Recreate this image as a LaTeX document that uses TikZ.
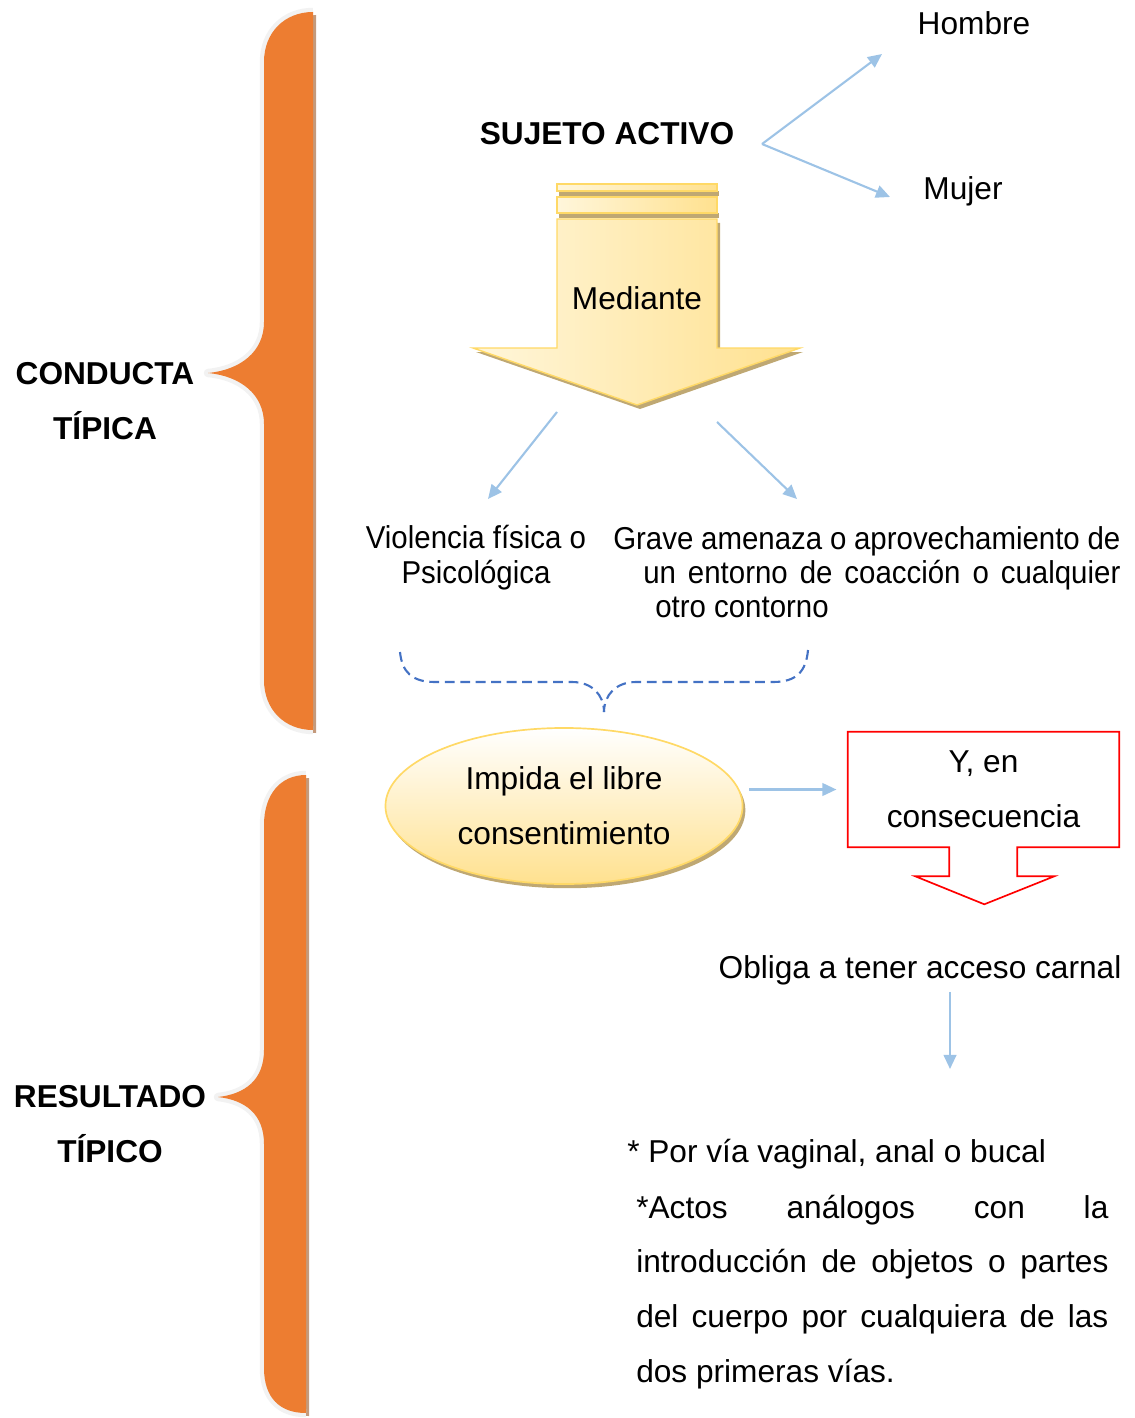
\documentclass[tikz,border=0pt]{standalone}
\usepackage{fontspec}
\setmainfont{Liberation Sans}
\newfontfamily\narrowfont[FakeStretch=0.93]{Liberation Sans}
\usetikzlibrary{arrows.meta,shapes.geometric,shadows,positioning}

\definecolor{bracefill}{HTML}{ED7D31}
\definecolor{braceedge}{HTML}{F2F2F2}
\definecolor{braceshadow}{HTML}{C49A7C}
\definecolor{arrowblue}{HTML}{9DC3E6}
\definecolor{dashblue}{HTML}{4472C4}
\definecolor{goldedge}{HTML}{FFD966}
\definecolor{goldfill}{HTML}{FFE18F}
\definecolor{goldlight}{HTML}{FFF6DB}
\definecolor{goldshadow}{HTML}{BFA873}

\tolerance=10000 \hbadness=10000 \hyphenpenalty=10000

\tikzset{
  txt/.style={inner sep=0pt, font=\fontsize{22.5}{24.5}\selectfont},
  wide/.style={inner sep=0pt, font=\fontsize{22.5}{39}\selectfont},
  bold/.style={inner sep=0pt, align=center, font=\fontsize{22.5}{39}\selectfont\bfseries},
  narrow/.style={inner sep=0pt, font=\narrowfont\fontsize{22.5}{24.2}\selectfont},
  link/.style={draw=arrowblue, line width=1.5pt, -{Triangle[length=10pt,width=9pt]}},
  dashlink/.style={draw=dashblue, line width=1.5pt, dash pattern=on 7pt off 4pt},
}

\begin{document}
\begin{tikzpicture}[x=0.025cm,y=-0.025cm]
\useasboundingbox (0,0) rectangle (1135,1418);

% braces
\fill[braceshadow, shift={(3,3)}] (313,12) .. controls (285,12) and (264,32) .. (264,62) -- (264,322) .. controls (264,352) and (240,370) .. (208,373) .. controls (240,376) and (264,394) .. (264,424) -- (264,680) .. controls (264,710) and (285,730) .. (313,730) -- cycle;
\draw[braceedge, line width=6pt, line join=round] (313,12) .. controls (285,12) and (264,32) .. (264,62) -- (264,322) .. controls (264,352) and (240,370) .. (208,373) .. controls (240,376) and (264,394) .. (264,424) -- (264,680) .. controls (264,710) and (285,730) .. (313,730);
\fill[bracefill] (313,12) .. controls (285,12) and (264,32) .. (264,62) -- (264,322) .. controls (264,352) and (240,370) .. (208,373) .. controls (240,376) and (264,394) .. (264,424) -- (264,680) .. controls (264,710) and (285,730) .. (313,730) -- cycle;

\fill[braceshadow, shift={(3,3)}] (306,775) .. controls (280,775) and (264,795) .. (264,825) -- (264,1050) .. controls (264,1080) and (245,1094) .. (218,1097) .. controls (245,1100) and (264,1114) .. (264,1144) -- (264,1368) .. controls (264,1398) and (280,1413) .. (306,1413) -- cycle;
\draw[braceedge, line width=6pt, line join=round] (306,775) .. controls (280,775) and (264,795) .. (264,825) -- (264,1050) .. controls (264,1080) and (245,1094) .. (218,1097) .. controls (245,1100) and (264,1114) .. (264,1144) -- (264,1368) .. controls (264,1398) and (280,1413) .. (306,1413);
\fill[bracefill] (306,775) .. controls (280,775) and (264,795) .. (264,825) -- (264,1050) .. controls (264,1080) and (245,1094) .. (218,1097) .. controls (245,1100) and (264,1114) .. (264,1144) -- (264,1368) .. controls (264,1398) and (280,1413) .. (306,1413) -- cycle;

\node[bold, anchor=base] (conducta) at (105,439) {CONDUCTA\\TÍPICA};
\node[bold, anchor=base] (resultado) at (110,1162) {RESULTADO\\TÍPICO};

% sujeto activo
\node[txt, font=\fontsize{22.5}{24.5}\selectfont\bfseries, anchor=base] (sujeto) at (607,145) {SUJETO ACTIVO};
\node[txt, anchor=base] (hombre) at (974,35) {Hombre};
\node[txt, anchor=base] (mujer) at (963,200) {Mujer};
\coordinate (fork) at (762,144);
\coordinate (hombretip) at (882,54);
\coordinate (mujertip) at (890,197);
\draw[link] (fork) -- (hombretip);
\draw[link] (fork) -- (mujertip);

% big arrow
\fill[goldshadow, shift={(3,4)}] (557,219) -- (717,219) -- (717,348) -- (800,348) -- (637,405) -- (473,348) -- (557,348) -- cycle;
\draw[goldedge, line width=1pt, left color=goldlight, right color=goldfill] (557,219) -- (717,219) -- (717,348) -- (800,348) -- (637,405) -- (473,348) -- (557,348) -- cycle;
\fill[goldshadow] (559,191) rectangle (719,196);
\fill[goldshadow] (559,213) rectangle (719,218);
\draw[goldedge, line width=1pt, left color=goldlight, right color=goldfill] (557,184) rectangle (717,191);
\draw[goldedge, line width=1pt, left color=goldlight, right color=goldfill] (557,197) rectangle (717,213);
\node[txt, anchor=base] (mediante) at (637,309) {Mediante};

\coordinate (leftstart) at (557,412);
\coordinate (rightstart) at (717,422);
\coordinate (lefttip) at (488,499);
\coordinate (righttip) at (797,499);
\draw[link] (leftstart) -- (lefttip);
\draw[link] (rightstart) -- (righttip);

\node[narrow, align=center, anchor=base] (violencia) at (476,583) {Violencia física o\\Psicológica};
\node[narrow, text width=12.675cm, align=justify, anchor=base west] (grave) at (613,549)
  {Grave amenaza o aprovechamiento de\linebreak\hspace*{0.75cm}un entorno de coacción o cualquier\linebreak\hspace*{1.05cm}otro contorno};

% dashed brace
\coordinate (meet) at (604,712);
\draw[dashlink] (400,652) .. controls (402,672) and (412,682) .. (435,682) -- (572,682) .. controls (592,682) and (604,695) .. (meet);
\draw[dashlink] (808,650) .. controls (806,672) and (796,682) .. (773,682) -- (636,682) .. controls (616,682) and (604,695) .. (meet);

% ellipse and red box
\node[ellipse, draw=goldedge, line width=1.2pt, top color=white, bottom color=goldfill, minimum width=8.925cm, minimum height=3.9cm,
  drop shadow={shadow xshift=2pt, shadow yshift=-3pt, fill=goldshadow, opacity=1}, align=center, wide] (impida) at (564,806) {Impida el libre\\consentimiento};
\node[wide, align=center, minimum width=6.775cm, minimum height=2.875cm] (consec) at (983.5,789.5) {Y, en\\consecuencia};
\draw[red, line width=1.2pt] (consec.south west) -- (consec.north west) -- (consec.north east) -- (consec.south east) -- ++(-102,0) -- ++(0,29) -- ++(37,0) -- ++(-70,28) -- ++(-69,-28) -- ++(34,0) -- ++(0,-29) -- cycle;
\draw[link, shorten <=4pt, shorten >=8pt] (impida.east |- consec.west) -- (consec.west);

\node[txt, anchor=base] (obliga) at (920,978) {Obliga a tener acceso carnal};
\coordinate (viastop) at (950,1069);
\draw[link, shorten <=5pt] (viastop |- obliga.south) -- (viastop);

\node[txt, anchor=base west] (porvia) at (627,1162) {* Por vía vaginal, anal o bucal};
\node[wide, text width=11.8cm, align=justify, anchor=base west] (actos) at (636,1218)
  {*Actos análogos con la\linebreak introducción de objetos o partes\linebreak del cuerpo por cualquiera de las\linebreak dos primeras vías.};
\end{tikzpicture}
\end{document}
